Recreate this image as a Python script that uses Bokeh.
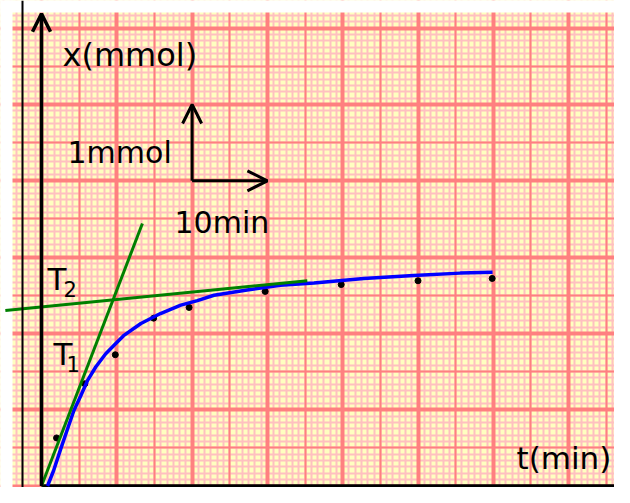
from bokeh.plotting import figure
from bokeh.models import Range1d, Grid, SingleIntervalTicker, Arrow, OpenHead, Span
from bokeh.core.properties import value
from bokeh.embed import file_html
from bokeh.resources import INLINE

# ---- data ----
t_meas = [2.0, 5.75, 9.8, 14.9, 19.6, 29.7, 39.8, 50.0, 59.85]       # min
x_meas = [0.63, 1.34, 1.72, 2.20, 2.34, 2.55, 2.64, 2.69, 2.72]      # mmol

t_curve = [0.8, 1.6, 2.5, 3.4, 4.3, 5.2, 6.1, 7.2, 8.5, 9.8, 10.9, 13.2, 15.8,
           18.5, 20.7, 22.9, 27.3, 31.7, 36.2, 42.8, 49.4, 55.6, 59.9]
x_curve = [0.0, 0.2, 0.47, 0.73, 0.99, 1.18, 1.38, 1.56, 1.73, 1.86, 1.97, 2.13, 2.26,
           2.37, 2.43, 2.50, 2.57, 2.63, 2.66, 2.72, 2.76, 2.79, 2.80]

t_T1 = [0.0, 13.4]
x_T1 = [0.0, 3.44]
t_T2 = [-4.8, 35.3]
x_T2 = [2.30, 2.69]

scale_t0, scale_x0 = 20, 4      # scale-bar corner
scale_dt, scale_dx = 10, 1      # 10 min, 1 mmol

# ---- pixel <-> data helpers (pixels of the picture) ----
PX0, PY0 = 41.0, 485.5
SX, SY = 7.53, 76.3
def tx(px): return (px - PX0) / SX
def ty(py): return (PY0 - py) / SY

W, H = 614, 487
p = figure(width=W, height=H, output_backend="svg", toolbar_location=None,
           x_axis_location=None, y_axis_location=None,
           x_range=Range1d(tx(0), tx(W)), y_range=Range1d(ty(H), ty(0)),
           min_border=0, background_fill_color="#FFFFC0",
           border_fill_color="white", outline_line_color=None)

# graph paper: fine, half and full squares
for interval_t, interval_x, color, width in [(10 / 12, 1 / 12, "#FFC0C0", 2),
                                              (5, 0.5, "#FF8080", 2),
                                              (10, 1.0, "#FF8080", 4)]:
    p.add_layout(Grid(dimension=0, ticker=SingleIntervalTicker(interval=interval_t, num_minor_ticks=0),
                      grid_line_color=color, grid_line_width=width), "center")
    p.add_layout(Grid(dimension=1, ticker=SingleIntervalTicker(interval=interval_x, num_minor_ticks=0),
                      grid_line_color=color, grid_line_width=width), "center")

# white margins of the scanned page
p.quad(left=tx(-10), right=tx(12), bottom=ty(H + 10), top=ty(-10), color="white", line_color=None)
p.quad(left=tx(-10), right=tx(W + 10), bottom=ty(12), top=ty(-10), color="white", line_color=None)
p.add_layout(Span(location=tx(22), dimension="height", line_color="black", line_width=2))

# x axis
p.line([0, tx(W + 20)], [0, 0], line_color="black", line_width=3.5)

# data
p.scatter(t_meas, x_meas, size=6, color="black")
p.line(t_curve, x_curve, line_color="#0000FF", line_width=3.5)
p.line(t_T1, x_T1, line_color="#008000", line_width=3)
p.line(t_T2, x_T2, line_color="#008000", line_width=3)

# y axis with arrow
p.add_layout(Arrow(x_start=0, y_start=0, x_end=0, y_end=ty(13.3), line_width=3.5, line_color="black",
                   end=OpenHead(size=18, line_width=3.5, line_color="black")))
# scale bar
p.add_layout(Arrow(x_start=scale_t0, y_start=scale_x0, x_end=scale_t0, y_end=scale_x0 + scale_dx,
                   line_width=3, line_color="black",
                   end=OpenHead(size=19, line_width=3, line_color="black")))
p.add_layout(Arrow(x_start=scale_t0, y_start=scale_x0, x_end=scale_t0 + scale_dt, y_end=scale_x0,
                   line_width=3, line_color="black",
                   end=OpenHead(size=20, line_width=3, line_color="black")))

# labels
font = value("DejaVu Sans")
labels = [("x(mmol)", 62, 54, "32px"), ("1mmol", 67, 152, "30px"), ("10min", 174, 222, "30px"),
          ("t(min)", 516, 457, "31px"), ("T", 47, 278, "31px"), ("T", 53, 353, "31px"),
          ("2", 63, 288, "21px"), ("1", 66, 363, "21px")]
for s, a, b, fs in labels:
    p.text(x=[tx(a)], y=[ty(b)], text=[s], text_font=font, text_font_size=fs,
           text_baseline="alphabetic", text_align="left", text_color="black")

open("out.html", "w").write(file_html(p, INLINE))
